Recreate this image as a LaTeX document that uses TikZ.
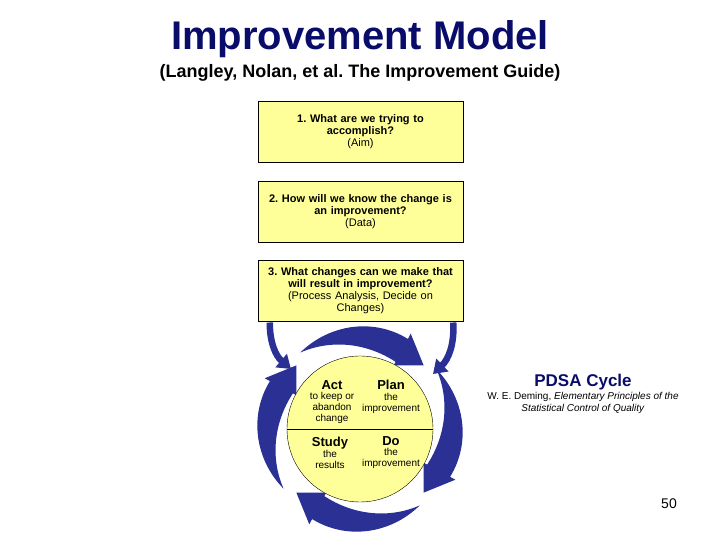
\documentclass[tikz,border=0pt]{standalone}
\usepackage{fontspec}
\setmainfont{Liberation Sans}
\usetikzlibrary{arrows.meta,positioning,calc}
\definecolor{navy}{RGB}{10,12,105}
\definecolor{ringblue}{RGB}{42,48,148}
\definecolor{pale}{RGB}{255,255,153}
\tikzset{
  qbox/.style={draw=black,fill=pale,minimum width=205pt,minimum height=61pt,text width=200pt,align=center,inner sep=0pt,font=\fontsize{11}{12}\selectfont},
  ring/.style={fill=ringblue},
  feed/.style={draw=ringblue,line width=6.5pt,-{Triangle[width=17pt,length=13pt]}},
  phase/.style={align=center,anchor=north,inner sep=0pt,font=\fontsize{10}{10.7}\selectfont}
}
\frenchspacing

\begin{document}
\begin{tikzpicture}[x=1pt,y=1pt]
  \useasboundingbox (0,0) rectangle (720,540);
  % title
  \node[anchor=base,text=navy,font=\fontsize{40}{44}\selectfont\bfseries] (title) at (360,490) {Improvement Model};
  \node[anchor=base,font=\fontsize{18}{20}\selectfont\bfseries] (source) at (360,462) {(Langley, Nolan, et al. The Improvement Guide)};

  % the three questions
  \node[qbox] (box1) at (360.5,408) {\textbf{1. What are we trying to}\\\textbf{accomplish?}\\(Aim)};
  \node[qbox,below=18pt of box1] (box2) {\textbf{2. How will we know the change is}\\\textbf{an improvement?}\\(Data)};
  \node[qbox,below=18pt of box2] (box3) {\textbf{3. What changes can we make that}\\\textbf{will result in improvement?}\\(Process Analysis, Decide on\\Changes)};

  % cycle arrows
  \coordinate (hub) at (360,111);
  \begin{scope}[shift={(hub)}]
    \foreach \c in {90,0,-90,180}{
      \pgfmathsetmacro{\tailang}{\c+38}
      \pgfmathsetmacro{\headang}{\c-28}
      \fill[ring] plot[domain=\tailang:\headang,samples=30] (\x:{97-8*(\tailang-\x)/66+13*sin(90*(\tailang-\x)/66)})
        -- (\headang:108) -- (\headang-17:90) -- (\headang:72)
        -- plot[domain=\headang:\tailang,samples=30] (\x:{97-8*(\tailang-\x)/66-13*sin(90*(\tailang-\x)/66)}) -- cycle;
    }
  \end{scope}
  \coordinate (fl) at ($(box3.south west)+(12,-1)$);
  \coordinate (hl) at (291,171);
  \coordinate (fr) at ($(box3.south east)+(-10,-1)$);
  \coordinate (hr) at (433,166);
  \draw[feed] (fl) to[bend right=25] (hl);
  \draw[feed] (fr) to[bend left=25] (hr);

  % PDSA circle
  \node[circle,draw=black,fill=pale,minimum size=146pt,inner sep=0pt] (cyc) at (hub) {};
  \draw (cyc.west) -- (cyc.east);
  \node[phase] (act) at (332,160) {{\bfseries\fontsize{13}{14}\selectfont Act}\\to keep or\\abandon\\change};
  \node[phase] (plan) at (391,160) {{\bfseries\fontsize{13}{14}\selectfont Plan}\\the\\improvement};
  \node[phase] (study) at (330,103) {{\bfseries\fontsize{13}{14}\selectfont Study}\\the\\results};
  \node[phase] (do) at (391,104) {{\bfseries\fontsize{13}{14}\selectfont Do}\\the\\improvement};

  % side notes
  \node[anchor=base,text=navy,font=\fontsize{17}{19}\selectfont\bfseries] (pdsa) at (583,153) {PDSA Cycle};
  \node[anchor=north,align=center,inner sep=0pt,font=\fontsize{10}{12.5}\selectfont] (deming) at (583,148) {W. E. Deming, \textit{Elementary Principles of the}\\\textit{Statistical Control of Quality}};
  \node[anchor=base,font=\fontsize{14}{16}\selectfont] (page) at (669,31) {50};
\end{tikzpicture}
\end{document}
